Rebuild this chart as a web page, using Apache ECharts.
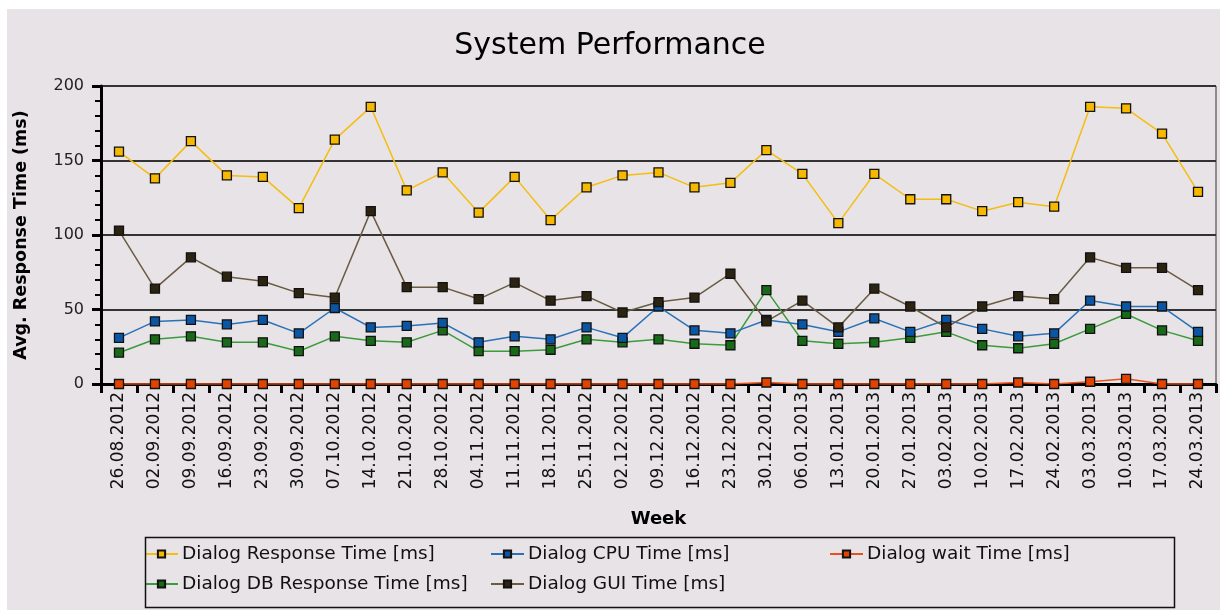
<!DOCTYPE html>
<html>
<head>
<meta charset="utf-8">
<script src="https://cdn.jsdelivr.net/npm/echarts@6/dist/echarts.min.js"></script>
<style>
html,body{margin:0;padding:0;background:#ffffff;}
#chart{width:1220px;height:610px;}
</style>
</head>
<body>
<div id="chart"></div>
<script>
var weeks = ['26.08.2012','02.09.2012','09.09.2012','16.09.2012','23.09.2012','30.09.2012','07.10.2012','14.10.2012','21.10.2012','28.10.2012','04.11.2012','11.11.2012','18.11.2012','25.11.2012','02.12.2012','09.12.2012','16.12.2012','23.12.2012','30.12.2012','06.01.2013','13.01.2013','20.01.2013','27.01.2013','03.02.2013','10.02.2013','17.02.2013','24.02.2013','03.03.2013','10.03.2013','17.03.2013','24.03.2013'];
var responseTime = [156,138,163,140,139,118,164,186,130,142,115,139,110,132,140,142,132,135,157,141,108,141,124,124,116,122,119,186,185,168,129];
var cpuTime = [31,42,43,40,43,34,51,38,39,41,28,32,30,38,31,52,36,34,43,40,35,44,35,43,37,32,34,56,52,52,35];
var waitTime = [0,0,0,0,0,0,0,0,0,0,0,0,0,0,0,0,0,0,1,0,0,0,0,0,0,1,0,1.5,3.5,0,0];
var dbTime = [21,30,32,28,28,22,32,29,28,36,22,22,23,30,28,30,27,26,63,29,27,28,31,35,26,24,27,37,47,36,29];
var guiTime = [103,64,85,72,69,61,58,116,65,65,57,68,56,59,48,55,58,74,42,56,38,64,52,38,52,59,57,85,78,78,63];
var yTicks = [0,50,100,150,200];

var FONT = 'DejaVu Sans';
var names = ['Dialog Response Time [ms]','Dialog CPU Time [ms]','Dialog wait Time [ms]','Dialog DB Response Time [ms]','Dialog GUI Time [ms]'];
var lineColors = ['#f5bd10','#2a72b8','#e8501c','#3c9c3c','#6a5c42'];
var fillColors = ['#f7b800','#0a56a4','#e04400','#186a18','#2c2410'];
var values = [responseTime,cpuTime,waitTime,dbTime,guiTime];
var order = [0,3,1,2,4];

var series = order.map(function(i){
  return {
    name: names[i], type:'line', data: values[i],
    symbol:'rect', symbolSize:9,
    lineStyle:{color:lineColors[i], width:1.5},
    itemStyle:{color:fillColors[i], borderColor:'#111', borderWidth:1.3},
    emphasis:{disabled:true}, animation:false
  };
});

var legendPos = [[144,543],[490,543],[829,543],[144,573],[490,573]];
var legends = names.map(function(n,i){
  return {
    data:[n], left:legendPos[i][0], top:legendPos[i][1], orient:'horizontal',
    itemWidth:33, itemHeight:9, itemGap:0, padding:0, selectedMode:false,
    textStyle:{fontFamily:FONT, fontSize:18.5, color:'#111', lineHeight:22, padding:[0,0,0,-1]}
  };
});

var chart = echarts.init(document.getElementById('chart'), null, {renderer:'canvas'});
chart.setOption({
  backgroundColor:'#ffffff',
  animation:false,
  graphic:[
    {type:'rect', left:7, top:9, shape:{width:1213, height:601}, style:{fill:'#e7e3e7'}, z:-10, silent:true},
    {type:'rect', left:143, top:535, shape:{width:1029, height:70}, style:{fill:'none', stroke:'#111', lineWidth:1.5}, z:10, silent:true}
  ],
  title:{
    text:'System Performance', left:'center', top:26,
    textStyle:{fontFamily:FONT, fontSize:30, fontWeight:'normal', color:'#000'}
  },
  legend: legends,
  grid:{left:101, right:4, top:86, bottom:226, show:true, borderColor:'#333', borderWidth:1, backgroundColor:'transparent'},
  xAxis:{
    type:'category', data:weeks, boundaryGap:true,
    name:'Week', nameLocation:'middle', nameGap:126,
    nameTextStyle:{fontFamily:FONT, fontSize:18, fontWeight:'bold', color:'#000'},
    axisLine:{lineStyle:{color:'#000', width:3}},
    axisTick:{show:true, length:9, lineStyle:{color:'#000', width:3}},
    axisLabel:{rotate:90, margin:8, fontFamily:FONT, fontSize:17, color:'#111', interval:0}
  },
  yAxis:{
    type:'value', min:yTicks[0], max:yTicks[yTicks.length-1], interval:50,
    name:'Avg. Response Time (ms)', nameLocation:'middle', nameGap:71,
    nameTextStyle:{fontFamily:FONT, fontSize:17.5, fontWeight:'bold', color:'#000'},
    axisLine:{show:true, lineStyle:{color:'#000', width:3}},
    axisTick:{show:true, length:9, lineStyle:{color:'#000', width:3}},
    minorTick:{show:true, splitNumber:5, length:6, lineStyle:{color:'#000', width:2}},
    splitLine:{show:true, lineStyle:{color:'#333', width:2}},
    axisLabel:{margin:17, fontFamily:FONT, fontSize:16, color:'#222'}
  },
  series: series
});
</script>
</body>
</html>
